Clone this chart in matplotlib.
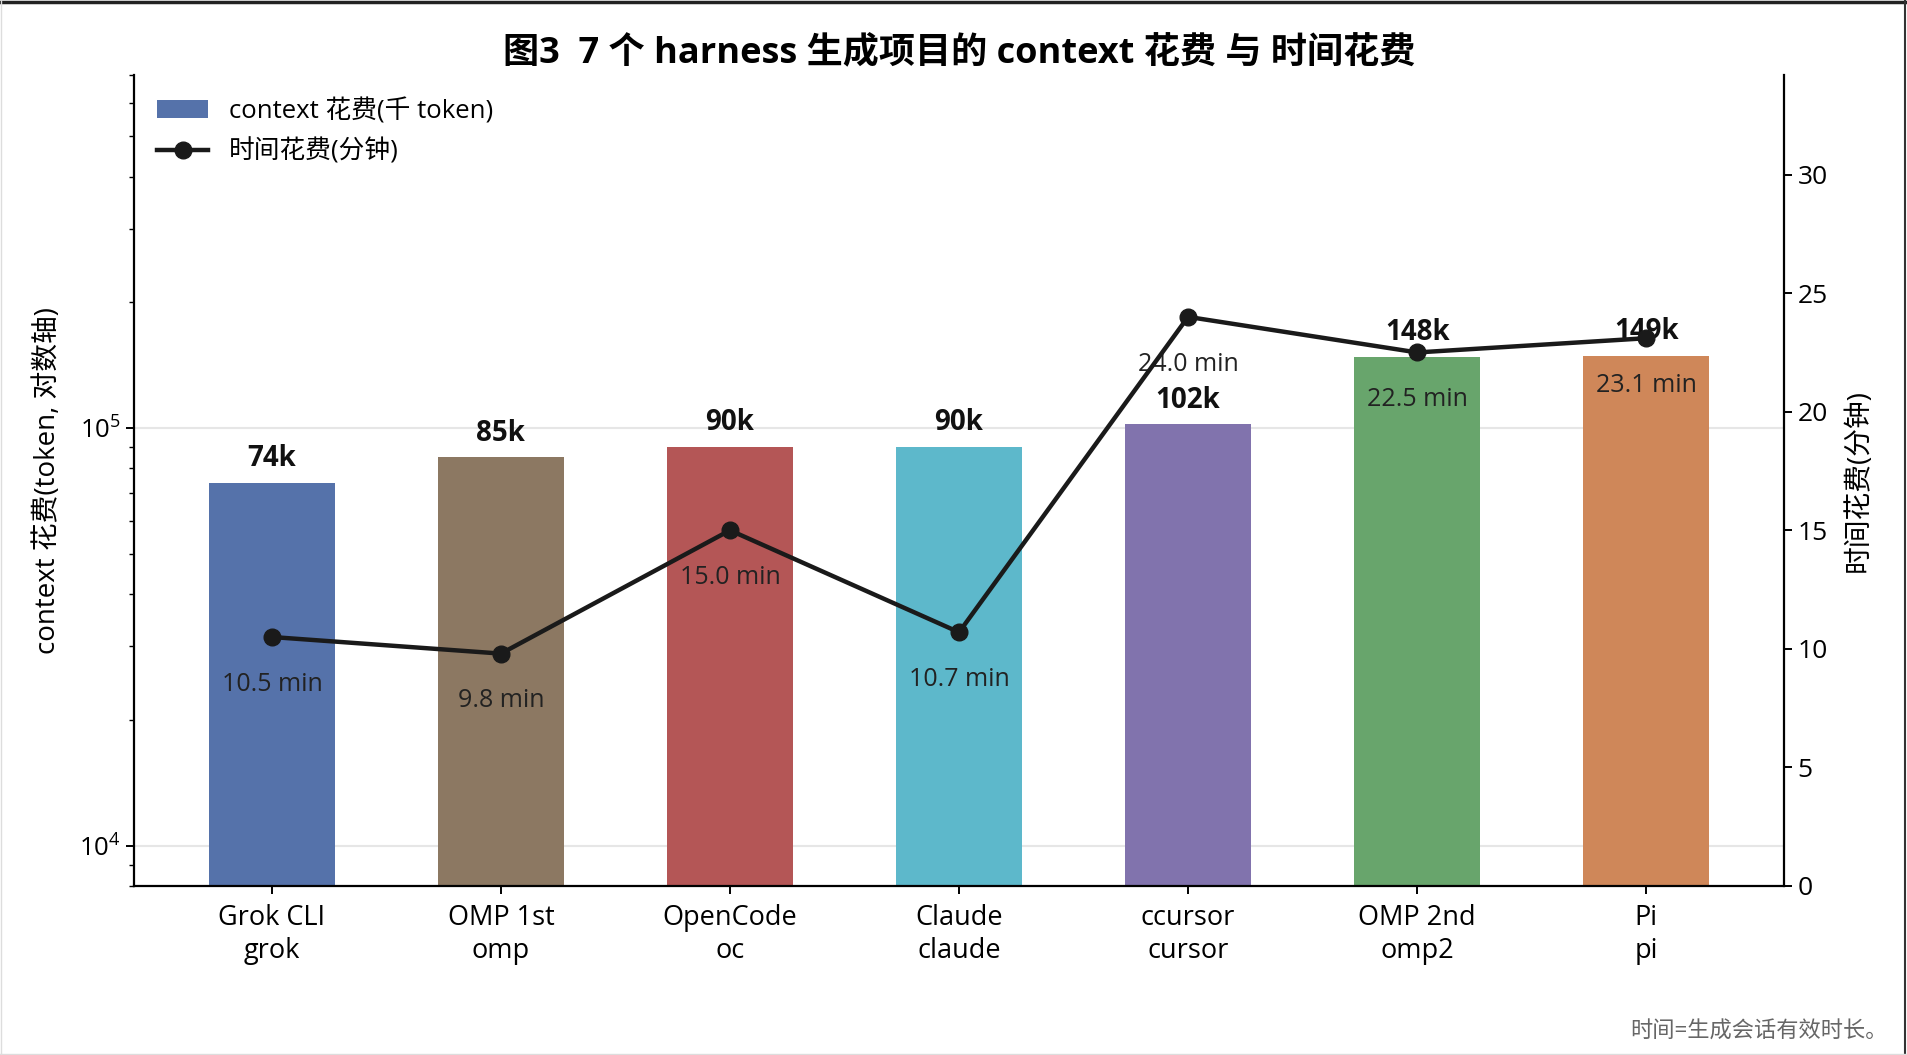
import matplotlib
matplotlib.use("Agg")
import matplotlib.pyplot as plt
from matplotlib.lines import Line2D
from matplotlib.patches import Patch

plt.rcParams['font.family'] = ['Open Sans', 'Noto Sans CJK SC', 'DejaVu Sans']
plt.rcParams['mathtext.fontset'] = 'custom'
plt.rcParams['mathtext.rm'] = 'Open Sans'
plt.rcParams['axes.unicode_minus'] = False

# ---- data ----
names = ["Grok CLI", "OMP 1st", "OpenCode", "Claude", "ccursor", "OMP 2nd", "Pi"]
keys = ["grok", "omp", "oc", "claude", "cursor", "omp2", "pi"]
context_tokens = [74000, 85000, 90000, 90000, 102000, 148000, 149000]
time_minutes = [10.5, 9.8, 15.0, 10.7, 24.0, 22.5, 23.1]
bar_colors = ['#5572AA', '#8C7862', '#B45656', '#5DB8CB', '#8173AD', '#68A56C', '#CF8759']

tick_labels = [f"{n}\n{k}" for n, k in zip(names, keys)]
x = list(range(len(names)))

fig = plt.figure(figsize=(19.07, 10.55), dpi=100)
ax = fig.add_axes([0.0702, 0.1602, 0.8654, 0.7687])

bars = ax.bar(x, context_tokens, width=0.55, color=bar_colors, zorder=2)
ax.set_yscale('log')
ax.set_ylim(8000, 7.0e5)
ax.set_axisbelow(True)
ax.yaxis.grid(True, which='major', color='#e6e6e6', linewidth=1.5)
ax.set_xticks(x)
ax.set_xticklabels(tick_labels, fontsize=19.5, linespacing=1.25)
ax.tick_params(axis='x', pad=7)
ax.tick_params(axis='y', labelsize=18.5)
ax.tick_params(axis='both', which='major', length=6, width=1.4)
ax.tick_params(axis='y', which='minor', length=3.5, width=1.0)
ax.set_ylabel("context 花费(token, 对数轴)", fontsize=20, labelpad=12)

for xi, v in zip(x, context_tokens):
    ax.annotate(f"{v/1000:.0f}k", (xi, v), xytext=(0, 7), textcoords='offset points',
                ha='center', va='bottom', fontsize=20, fontweight='bold', color='#111111')

for s in ['top', 'right']:
    ax.spines[s].set_visible(False)
for s in ['left', 'bottom']:
    ax.spines[s].set_linewidth(1.6)

ax2 = ax.twinx()
ax2.plot(x, time_minutes, color='#1a1a1a', linewidth=3.2, marker='o', markersize=12, zorder=5)
ax2.set_ylim(0, 34.2)
ax2.set_yticks([0, 5, 10, 15, 20, 25, 30])
ax2.tick_params(axis='y', labelsize=19, length=6, width=1.4)
ax2.set_ylabel("时间花费(分钟)", fontsize=20, labelpad=12)
for s in ['top', 'left', 'bottom']:
    ax2.spines[s].set_visible(False)
ax2.spines['right'].set_linewidth(1.6)

for xi, t in zip(x, time_minutes):
    ax2.annotate(f"{t:.1f} min", (xi, t), xytext=(0, -34), textcoords='offset points',
                 ha='center', va='center', fontsize=18, color='#222222')

ax.set_title("图3  7 个 harness 生成项目的 context 花费 与 时间花费", fontsize=26,
             fontweight='bold', pad=9)

handles = [Patch(facecolor=bar_colors[0]),
           Line2D([0], [0], color='#1a1a1a', linewidth=3.2, marker='o', markersize=12)]
ax2.legend(handles, ["context 花费(千 token)", "时间花费(分钟)"], loc='upper left',
           frameon=False, fontsize=18.5, handlelength=2.0, labelspacing=0.55)

fig.text(0.99, 0.022, "时间=生成会话有效时长。", ha='right', va='center',
         fontsize=16, color='#666666')

# frame edges
fig.add_artist(Line2D([0, 1], [0.9985, 0.9985], transform=fig.transFigure, color='#222222', linewidth=2.5))
fig.add_artist(Line2D([0.9992, 0.9992], [0, 1], transform=fig.transFigure, color='#333333', linewidth=1.5))
fig.add_artist(Line2D([0.0005, 0.0005], [0, 1], transform=fig.transFigure, color='#dddddd', linewidth=1))
fig.add_artist(Line2D([0, 1], [0.001, 0.001], transform=fig.transFigure, color='#dddddd', linewidth=1))

fig.savefig("out.png", dpi=100)
